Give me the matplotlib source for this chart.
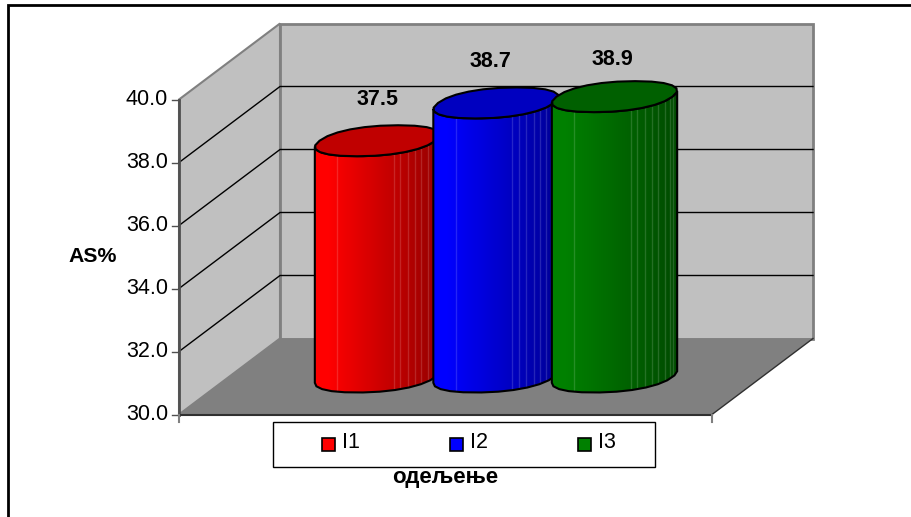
import numpy as np
import matplotlib
matplotlib.use('Agg')
import matplotlib.pyplot as plt
from matplotlib.patches import Polygon, Rectangle

plt.rcParams['font.family'] = ['Liberation Sans', 'DejaVu Sans']

# chart data
groups = ['I1', 'I2', 'I3']
scores = [37.5, 38.7, 38.9]
colors = ['#ff0000', '#0000ff', '#008000']
tops = ['#c00000', '#0000c0', '#006000']
ticks = [30.0, 32.0, 34.0, 36.0, 38.0, 40.0]
facet_lines = [0.18, 0.63, 0.68, 0.74, 0.80, 0.85, 0.90, 0.94, 0.97]

# pixel layout of the oblique box
x0, x1 = 179, 712
y30, unit = 414.5, 31.5
dx, dy = 101, -76
centers = [377.5, 496, 614.5]
base_y = 377
rx, depth = 58, 0.204


def val_y(v):
    return y30 - (v - 30) * unit


def rim(t):
    # slightly squared ellipse lying in the floor plane
    c, s = np.cos(t), np.sin(t)
    c = np.sign(c) * np.abs(c) ** 0.9
    s = np.sign(s) * np.abs(s) ** 0.9
    return rx * c + depth * dx * s, depth * dy * s


fig = plt.figure(figsize=(9.12, 5.17), dpi=100)
ax = fig.add_axes([0, 0, 1, 1])
ax.set_xlim(0, 912)
ax.set_ylim(517, 0)
ax.axis('off')

# walls and floor
top, bottom = val_y(40), val_y(30)
ax.add_patch(Polygon([(x0, top), (x0 + dx, top + dy), (x0 + dx, bottom + dy), (x0, bottom)],
                     fc='#c0c0c0', ec='#808080', lw=1.5, zorder=1))
ax.add_patch(Rectangle((x0 + dx, top + dy), x1 - x0, bottom - top,
                       fc='#c0c0c0', ec='#808080', lw=2, zorder=1))
ax.add_patch(Polygon([(x0, bottom), (x0 + dx, bottom + dy), (x1 + dx, bottom + dy), (x1, bottom)],
                     fc='#808080', ec='none', zorder=2))
ax.plot([x1, x1 + dx], [bottom, bottom + dy], color='#303030', lw=1, zorder=2)

# gridlines run across the side wall and then the back wall
for t in ticks[1:]:
    y = val_y(t)
    if t < 40:
        ax.plot([x0, x0 + dx, x1 + dx], [y, y + dy, y + dy], color='black', lw=1, zorder=3)

# axis lines and ticks
ax.plot([x0, x0], [top, bottom], color='#505050', lw=2, zorder=4)
ax.plot([x0, x1], [bottom, bottom], color='#303030', lw=1.5, zorder=4)
for t in ticks:
    ax.plot([x0 - 7, x0], [val_y(t)] * 2, color='#505050', lw=1, zorder=4)
    ax.text(x0 - 11, val_y(t), f'{t:.1f}', ha='right', va='center', fontsize=15.5, color='black')
for x in (x0, x1):
    ax.plot([x, x], [bottom, bottom + 7], color='#808080', lw=1.5, zorder=4)


def shade(rgb, f):
    # bright on the left, darker towards the right side of the cylinder
    k = 1.0 if f < 0.1 else 1.0 - 0.42 * (f - 0.1) / 0.9
    return tuple(c * k for c in rgb)


for i, (name, v) in enumerate(zip(groups, scores)):
    cx = centers[i]
    h = (v - 30) * unit
    cy = base_y - h
    rgb = matplotlib.colors.to_rgb(colors[i])
    # the cap is a coarse polygon, the way the facets of the cylinder meet it
    ex, ey = rim(np.linspace(0, 2 * np.pi, 25))
    # silhouette of the front half, from the rightmost point to the leftmost one
    a = np.arctan2(depth * dx, rx)
    fx, fy = rim(np.linspace(a, a - np.pi, 13))
    lo = cx + fx.min()
    w = (fx.max() - fx.min()) / 2
    z = 5 + i * 2
    outline = list(zip(cx + fx, base_y + fy)) + list(zip(cx + fx[::-1], cy + fy[::-1]))
    body = Polygon(outline, fc='none', ec='none', zorder=z)
    ax.add_patch(body)
    grad = np.linspace(0, 1, 120)
    for g0, g1 in zip(grad[:-1], grad[1:]):
        r = ax.add_patch(Rectangle((lo + g0 * 2 * w, 0), (g1 - g0) * 2 * w + 0.6, 517,
                                   fc=shade(rgb, g0), ec='none', zorder=z))
        r.set_clip_path(body)
    for f in facet_lines:
        lx = lo + f * 2 * w
        ln, = ax.plot([lx, lx], [0, 517], color='white', alpha=0.15, lw=1, zorder=z)
        ln.set_clip_path(body)
    ax.add_patch(Polygon(outline, fc='none', ec='black', lw=1.5, zorder=z))
    ax.add_patch(Polygon(list(zip(cx + ex, cy + ey)), fc=tops[i], ec='black', lw=1.5, zorder=z))

# value labels above each cylinder
label_x = [378, 490, 612]
label_gap = [79, 79, 75]
for i, v in enumerate(scores):
    ax.text(label_x[i], val_y(v) - label_gap[i], f'{v:.1f}', ha='center', va='center',
            fontsize=15.5, fontweight='bold', color='black', zorder=12)

ax.text(93, 256, 'AS%', ha='center', va='center', fontsize=15.3, fontweight='bold')
ax.text(445, 478, 'одељење', ha='center', va='center', fontsize=16, fontweight='bold')

# legend box
ax.add_patch(Rectangle((273, 421.5), 382, 45.5, fc='white', ec='black', lw=1, zorder=12))
leg_x = [328.5, 456.5, 584.5]
for i, name in enumerate(groups):
    ax.add_patch(Rectangle((leg_x[i] - 6.5, 438), 13, 13, fc=colors[i], ec='black', lw=1.2, zorder=13))
    ax.text(leg_x[i] + 13.5, 442.5, name, ha='left', va='center', fontsize=15.5, zorder=13)

# outer border
ax.plot([8, 8, 912], [517, 5, 5], color='black', lw=2, zorder=14, solid_joinstyle='miter')

fig.savefig('out.png', dpi=100)
